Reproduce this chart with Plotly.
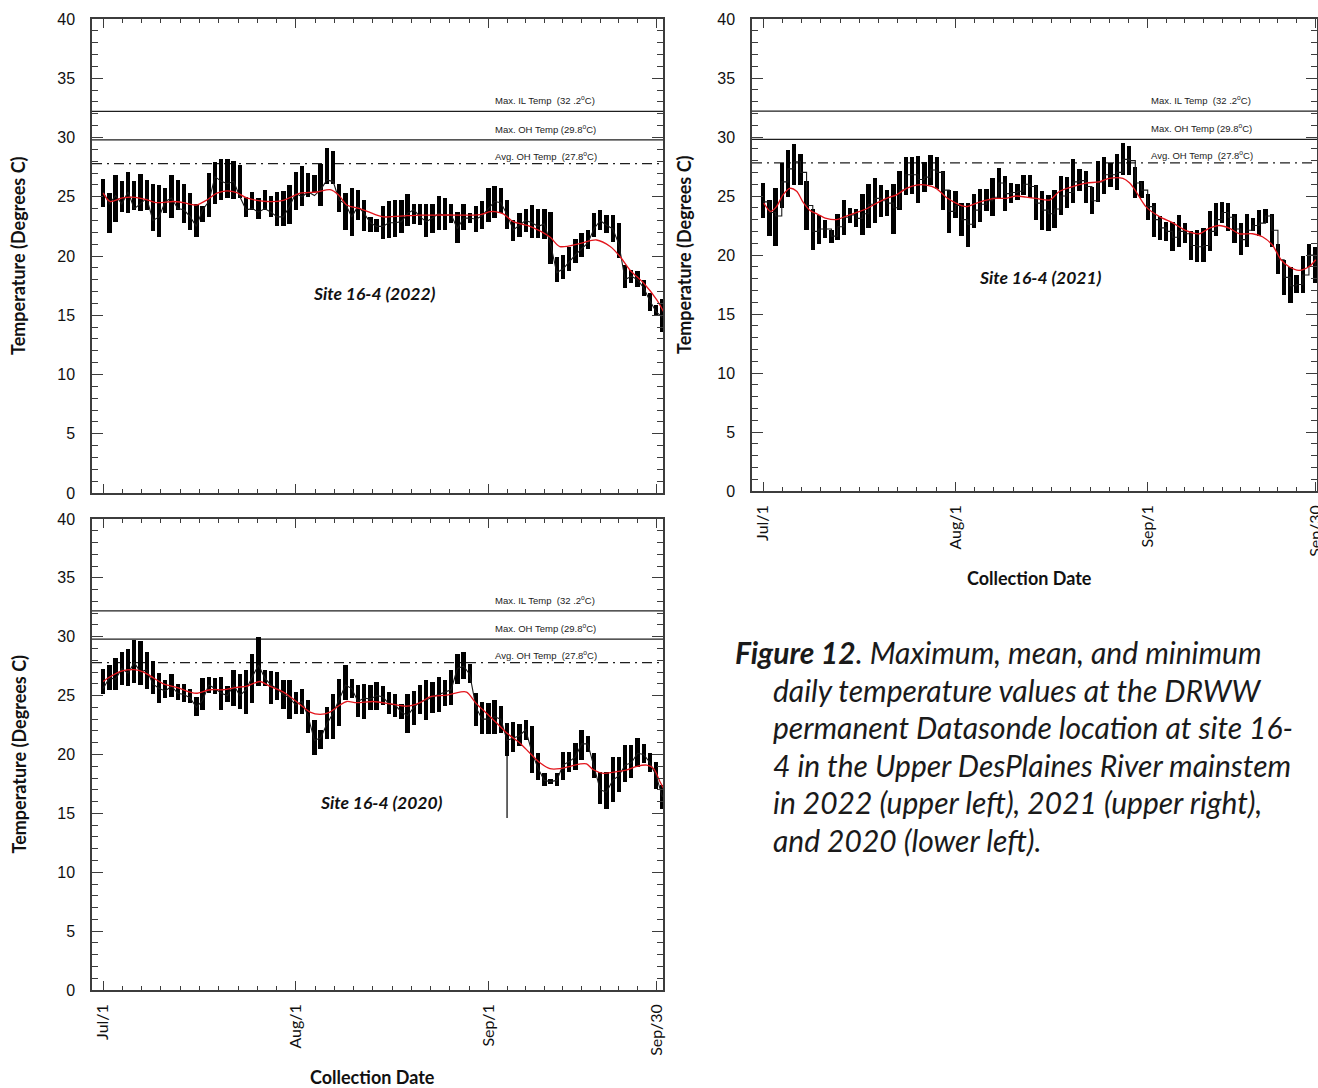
import plotly.graph_objects as go

W, H = 1318, 1088

# ---------------- daily temperature data (day 0 = Jul 1) ----------------
DAYS_2022 = list(range(91))
TMAX_2022 = [26.5, 25.3, 26.8, 26.3, 27.1, 26.3, 26.9, 26.4, 26.1, 26.0,
             25.7, 26.8, 26.4, 26.1, 25.3, 24.4, 24.2, 27.0, 27.9, 28.2,
             28.2, 28.0, 27.7, 25.0, 25.4, 24.9, 25.6, 25.1, 25.4, 25.5,
             26.0, 27.1, 27.6, 27.0, 26.8, 27.8, 29.1, 28.9, 26.1, 25.3,
             25.7, 25.6, 24.7, 23.3, 23.1, 24.2, 24.6, 24.7, 24.7, 25.2,
             24.4, 24.4, 24.4, 24.4, 25.1, 24.9, 24.4, 23.7, 24.4, 23.6,
             24.2, 24.6, 25.7, 25.9, 25.7, 24.7, 23.0, 23.6, 24.0, 24.3,
             24.0, 24.0, 23.7, 19.9, 20.1, 20.8, 21.4, 21.9, 22.2, 23.6,
             23.9, 23.5, 23.5, 22.8, 19.2, 18.8, 18.7, 18.0, 16.9, 15.9,
             16.4]
TMIN_2022 = [24.1, 21.9, 22.9, 23.7, 23.6, 23.9, 23.8, 23.9, 22.1, 21.6,
             23.6, 23.2, 23.9, 22.8, 22.2, 21.6, 22.9, 23.3, 24.4, 24.7,
             24.9, 24.8, 24.9, 23.3, 23.9, 23.1, 23.9, 23.3, 22.5, 22.5,
             22.7, 23.9, 24.2, 25.0, 25.4, 24.2, 26.1, 26.1, 23.7, 22.2,
             21.7, 23.0, 22.1, 22.0, 22.0, 21.4, 21.5, 21.6, 21.9, 22.5,
             22.7, 22.6, 21.6, 21.9, 22.2, 22.2, 22.8, 21.1, 22.2, 22.8,
             22.0, 22.3, 22.9, 23.2, 23.6, 22.3, 21.3, 21.6, 22.0, 21.5,
             21.5, 21.4, 19.3, 17.8, 18.1, 18.7, 19.4, 19.9, 20.6, 21.6,
             22.2, 21.9, 21.2, 19.8, 17.3, 17.7, 17.4, 16.6, 15.4, 14.9,
             13.6]
TMEAN_2022 = [25.4, 24.4, 25.1, 24.4, 25.4, 24.0, 24.4, 24.9, 23.0, 23.3,
              24.6, 24.9, 24.0, 23.9, 23.3, 22.5, 23.9, 24.6, 26.7, 26.3,
              26.1, 26.3, 25.0, 23.9, 24.0, 23.7, 24.0, 23.7, 23.3, 23.3,
              24.2, 25.3, 25.0, 25.4, 25.1, 25.6, 26.4, 26.3, 24.7, 24.4,
              23.3, 24.2, 23.6, 22.8, 22.5, 22.5, 22.8, 22.8, 22.9, 23.6,
              23.9, 23.3, 22.9, 23.2, 23.6, 23.4, 23.5, 22.3, 23.2, 23.2,
              23.1, 23.4, 24.0, 24.6, 24.5, 23.5, 22.2, 22.6, 23.0, 22.8,
              22.5, 22.7, 21.0, 18.6, 18.9, 19.5, 20.1, 20.6, 21.1, 22.3,
              23.0, 22.6, 22.3, 21.0, 18.0, 18.3, 18.0, 17.3, 16.2, 15.3,
              14.8]
SMOOTH_DAY_2022 = [0, 1.1, 3.1, 5.1, 7.3, 8.6, 11.3, 12.9, 15.0, 16.6, 18.3,
                   19.9, 21.5, 23.1, 26.3, 29.0, 31.7, 34.4, 36.5, 37.9, 39.2,
                   41.3, 43.5, 45.1, 48.9, 51.0, 55.3, 60.7, 62.3, 63.1, 64.4,
                   66.0, 68.7, 71.9, 73.5, 76.8, 79.4, 81.6, 83.2, 84.8, 87.0,
                   89.1, 90.2]
SMOOTH_2022 = [25.3, 24.6, 24.9, 24.95, 24.7, 24.5, 24.6, 24.5, 24.3, 24.7,
               25.3, 25.5, 25.35, 24.9, 24.6, 24.7, 25.3, 25.4, 25.6, 25.15,
               24.3, 24.0, 23.55, 23.3, 23.4, 23.45, 23.46, 23.5, 23.74,
               23.74, 23.55, 22.9, 22.5, 21.6, 20.8, 21.07, 21.35, 20.8,
               19.94, 18.8, 17.7, 16.3, 15.3]

DAYS_2021 = list(range(90))
TMAX_2021 = [26.1, 24.7, 25.7, 27.8, 28.9, 29.4, 28.6, 26.3, 23.9, 23.4,
             23.0, 22.1, 23.5, 24.7, 24.0, 23.9, 25.2, 26.0, 26.5, 25.9,
             25.5, 26.0, 27.1, 28.3, 28.3, 28.4, 27.9, 28.5, 28.3, 27.1,
             25.5, 25.4, 24.4, 24.4, 25.2, 25.6, 25.6, 26.5, 27.4, 26.7,
             26.1, 26.0, 26.8, 26.8, 25.9, 25.4, 25.1, 25.5, 26.7, 26.6,
             28.1, 27.3, 27.1, 25.8, 28.0, 28.3, 27.8, 28.6, 29.5, 29.2,
             27.5, 26.3, 25.2, 24.4, 23.3, 22.8, 22.8, 23.4, 22.7, 22.0,
             22.1, 22.3, 23.7, 24.4, 24.5, 24.4, 23.5, 22.7, 23.5, 23.1,
             23.8, 23.9, 23.5, 20.9, 19.6, 19.0, 18.3, 19.9, 20.9, 20.7]
TMIN_2021 = [23.1, 21.6, 20.8, 24.0, 24.9, 25.9, 25.9, 22.1, 20.4, 20.9,
             21.4, 21.0, 21.3, 21.7, 22.7, 22.4, 21.7, 22.3, 22.7, 23.2,
             23.3, 21.8, 23.8, 25.1, 25.2, 24.4, 25.3, 25.9, 25.6, 23.8,
             21.9, 23.1, 21.6, 20.7, 22.3, 22.8, 23.7, 23.3, 24.8, 23.7,
             24.4, 24.7, 25.1, 24.8, 23.0, 22.1, 22.0, 22.3, 23.4, 24.0,
             24.4, 25.4, 24.4, 23.5, 24.5, 25.2, 25.8, 25.5, 26.8, 26.8,
             24.8, 24.8, 23.0, 21.5, 21.3, 21.2, 20.3, 20.7, 21.0, 19.6,
             19.4, 19.4, 20.3, 21.6, 22.7, 22.0, 21.0, 20.0, 20.7, 22.0,
             21.6, 22.7, 20.7, 18.4, 16.6, 15.9, 16.8, 16.8, 19.0, 17.6]
TMEAN_2021 = [24.5, 23.6, 23.3, 26.2, 27.3, 27.9, 27.0, 24.2, 22.0, 22.2,
              22.2, 21.6, 22.4, 23.2, 23.4, 23.1, 23.5, 24.3, 24.8, 24.6,
              24.4, 24.0, 25.5, 26.8, 26.8, 26.4, 26.6, 27.2, 27.0, 25.5,
              23.7, 24.2, 23.0, 22.6, 23.8, 24.3, 24.6, 24.9, 26.1, 25.2,
              25.3, 25.4, 26.0, 25.8, 24.4, 23.8, 23.5, 23.9, 25.0, 25.3,
              26.2, 26.3, 25.8, 24.6, 26.2, 26.8, 26.8, 27.0, 28.1, 28.0,
              26.1, 25.5, 24.1, 23.0, 22.3, 22.0, 21.5, 22.0, 21.8, 20.8,
              20.7, 20.8, 22.0, 23.0, 23.6, 23.2, 22.2, 21.3, 22.1, 22.5,
              22.7, 23.3, 22.1, 19.6, 18.1, 17.4, 17.5, 18.3, 20.0, 19.1]
SMOOTH_DAY_2021 = [0.1, 1.2, 2.15, 3.2, 4.3, 5.4, 6.4, 7.5, 8.6, 10.2, 11.8,
                   13.4, 15.0, 16.6, 18.3, 19.9, 21.5, 23.1, 24.7, 26.3, 27.9,
                   29.5, 31.1, 32.7, 34.4, 36.0, 37.6, 39.2, 40.8, 42.4, 44.0,
                   46.2, 47.8, 49.9, 52.1, 54.2, 55.8, 58.0, 59.1, 60.1, 61.7,
                   63.9, 66.0, 68.2, 70.3, 71.9, 73.5, 75.2, 76.8, 78.9, 80.5,
                   82.1, 83.5, 84.8, 86.4, 88.0, 89.1]
SMOOTH_2021 = [24.4, 23.7, 24.1, 25.1, 25.65, 25.4, 24.5, 23.8, 23.5, 23.1,
               23.0, 23.3, 23.6, 23.9, 24.4, 24.8, 25.1, 25.65, 25.93, 25.93,
               25.65, 24.9, 24.4, 24.1, 24.4, 24.66, 24.8, 24.8, 25.0, 24.9,
               24.8, 24.66, 25.4, 25.8, 26.1, 26.2, 26.5, 26.5, 26.1, 25.4,
               24.1, 23.25, 22.74, 22.06, 21.8, 22.26, 22.5, 22.26, 21.8,
               21.8, 21.55, 20.85, 19.6, 19.0, 18.7, 19.0, 19.6]

DAYS_2020 = list(range(91))
TMAX_2020 = [27.3, 27.6, 28.2, 28.7, 29.0, 29.7, 29.6, 28.7, 27.9, 26.9,
             26.3, 26.8, 26.0, 26.0, 25.6, 24.9, 26.5, 26.6, 26.5, 26.6,
             25.8, 27.2, 26.8, 27.2, 28.5, 30.0, 27.2, 27.1, 27.0, 26.3,
             26.3, 25.3, 25.6, 24.6, 22.9, 22.1, 24.0, 25.1, 26.4, 27.6,
             26.4, 25.9, 26.0, 25.9, 26.2, 25.8, 25.3, 25.1, 24.3, 25.1,
             25.4, 25.9, 26.3, 26.2, 26.6, 26.3, 27.2, 28.5, 28.7, 27.7,
             25.2, 24.5, 24.4, 24.6, 24.1, 22.7, 22.8, 22.6, 22.9, 22.4,
             20.1, 18.4, 17.9, 18.4, 20.2, 20.2, 21.0, 22.1, 21.6, 20.1,
             18.5, 18.5, 19.8, 19.8, 20.8, 20.8, 21.4, 20.9, 20.1, 19.4,
             17.4]
TMIN_2020 = [25.1, 25.5, 25.5, 25.9, 25.8, 26.1, 25.9, 25.6, 25.1, 24.4,
             24.8, 24.9, 24.6, 24.5, 24.4, 23.3, 23.8, 25.2, 25.1, 23.8,
             24.5, 24.1, 23.9, 23.4, 24.4, 25.8, 25.8, 24.3, 24.6, 23.9,
             23.0, 23.4, 23.4, 21.8, 20.0, 20.5, 21.3, 21.3, 22.4, 24.6,
             24.8, 23.2, 23.0, 23.8, 23.8, 24.2, 23.4, 23.2, 23.0, 21.8,
             22.5, 23.4, 22.9, 23.5, 23.6, 24.1, 24.2, 26.0, 26.4, 26.1,
             22.4, 21.7, 21.7, 21.7, 21.8, 19.9, 20.2, 20.7, 21.2, 18.4,
             17.8, 17.3, 17.5, 17.3, 17.8, 18.5, 18.7, 19.5, 20.2, 18.0,
             15.8, 15.4, 16.0, 16.8, 17.7, 18.0, 18.9, 19.3, 18.5, 17.1,
             15.4]
TMEAN_2020 = [25.6, 26.5, 26.4, 27.3, 26.9, 27.8, 27.0, 27.2, 26.0, 25.6,
              25.4, 25.8, 25.2, 25.1, 24.8, 24.0, 24.6, 25.9, 25.6, 25.2,
              25.0, 25.9, 25.0, 25.5, 26.6, 27.6, 26.5, 25.9, 25.6, 25.1,
              24.8, 24.2, 24.5, 23.2, 21.2, 21.4, 22.6, 23.5, 24.7, 25.9,
              25.6, 24.5, 24.8, 24.7, 25.0, 24.9, 24.3, 24.2, 23.6, 23.3,
              24.0, 24.5, 24.6, 24.9, 25.1, 25.3, 25.5, 27.3, 27.5, 26.8,
              24.0, 23.0, 23.0, 23.2, 23.0, 21.2, 21.4, 21.6, 22.1, 20.2,
              18.8, 17.8, 17.7, 17.8, 19.1, 19.4, 19.8, 20.9, 20.9, 19.0,
              17.0, 16.8, 17.8, 18.2, 19.1, 19.3, 20.1, 20.0, 19.3, 18.2,
              16.4]
# single low reading on Sep 4, 2020 reaching below the daily bar
SPIKE_DAY_2020 = 65
SPIKE_LOW_2020 = 14.6
SMOOTH_DAY_2020 = [0, 1.1, 3.1, 5.0, 6.5, 8.1, 9.7, 11.8, 14.0, 15.0, 17.2,
                   19.3, 21.5, 23.1, 25.2, 26.8, 29.0, 31.1, 33.3, 34.9, 36.5,
                   38.1, 39.2, 40.8, 43.5, 46.2, 48.9, 51.0, 52.6, 55.3, 57.4,
                   58.5, 60.1, 61.7, 63.3, 65.0, 67.1, 68.7, 70.3, 71.9, 73.5,
                   75.2, 76.8, 77.8, 78.9, 80.5, 82.1, 84.3, 85.9, 87.5, 88.6,
                   89.6, 90.2]
SMOOTH_2020 = [26.2, 26.6, 27.1, 27.2, 27.0, 26.5, 26.0, 25.7, 25.3, 25.2,
               25.5, 25.5, 25.7, 25.8, 26.2, 25.8, 25.3, 24.5, 23.6, 23.4,
               23.6, 24.2, 24.5, 24.4, 24.5, 24.3, 24.1, 24.4, 24.9, 25.05,
               25.3, 25.3, 24.3, 23.5, 22.7, 21.8, 20.95, 20.1, 19.3, 18.8,
               18.8, 19.0, 19.2, 19.2, 18.7, 18.4, 18.5, 18.7, 19.0, 19.1,
               18.8, 17.7, 17.1]

# reference temperatures (deg C)
MAX_IL_TEMP = 32.2
MAX_OH_TEMP = 29.8
AVG_OH_TEMP = 27.8

Y_TICKS = [0, 5, 10, 15, 20, 25, 30, 35, 40]
DATE_TICKS = [0, 31, 62, 89.1]
DATE_LABELS = ["Jul/1", "Aug/1", "Sep/1", "Sep/30"]
MINOR_DATE_TICKS = [3.1 * k for k in range(21)] + [62 + 3.0 * k for k in range(1, 10)]

AXIS_COLOR = "#3c3c3c"
INK = "#111111"
RED = "#e3161d"


def px_x(p):
    return p / W


def px_y(p):
    return 1 - p / H


panels = [
    dict(year="2022", days=DAYS_2022, tmax=TMAX_2022, tmin=TMIN_2022,
         tmean=TMEAN_2022, sday=SMOOTH_DAY_2022, smooth=SMOOTH_2022,
         xdom=(92, 663), ydom=(19, 493), xrange=(-1.8, 90.1), labels=False,
         step=False, site=(374, 293), ytitle_x=18),
    dict(year="2021", days=DAYS_2021, tmax=TMAX_2021, tmin=TMIN_2021,
         tmean=TMEAN_2021, sday=SMOOTH_DAY_2021, smooth=SMOOTH_2021,
         xdom=(752, 1317), ydom=(19, 491), xrange=(-1.8, 89.3), labels=True,
         step=True, site=(1040, 277), ytitle_x=684),
    dict(year="2020", days=DAYS_2020, tmax=TMAX_2020, tmin=TMIN_2020,
         tmean=TMEAN_2020, sday=SMOOTH_DAY_2020, smooth=SMOOTH_2020,
         xdom=(92, 663), ydom=(519, 990), xrange=(-1.8, 90.1), labels=True,
         step=False, site=(381, 802), ytitle_x=18),
]

fig = go.Figure()
shapes = []
annotations = []

for i, p in enumerate(panels, start=1):
    xa = "x" if i == 1 else f"x{i}"
    ya = "y" if i == 1 else f"y{i}"

    # daily min-max range bars
    fig.add_trace(go.Bar(
        x=p["days"], y=[hi - lo for hi, lo in zip(p["tmax"], p["tmin"])],
        base=p["tmin"], width=0.7, marker=dict(color="#000000", line=dict(width=0)),
        xaxis=xa, yaxis=ya, showlegend=False, hoverinfo="skip"))

    if p["year"] == "2020":
        fig.add_trace(go.Scatter(
            x=[SPIKE_DAY_2020, SPIKE_DAY_2020],
            y=[p["tmin"][SPIKE_DAY_2020], SPIKE_LOW_2020],
            mode="lines", line=dict(color="#000000", width=1.2),
            xaxis=xa, yaxis=ya, showlegend=False, hoverinfo="skip"))

    # daily mean
    fig.add_trace(go.Scatter(
        x=p["days"], y=p["tmean"], mode="lines",
        line=dict(color="#1a1a1a", width=1.1, shape="hv" if p["step"] else "linear"),
        xaxis=xa, yaxis=ya, showlegend=False, hoverinfo="skip"))

    # smoothed trend
    fig.add_trace(go.Scatter(
        x=p["sday"], y=p["smooth"], mode="lines",
        line=dict(color=RED, width=1.3, shape="spline", smoothing=0.8),
        xaxis=xa, yaxis=ya, showlegend=False, hoverinfo="skip"))

    axis_common = dict(showline=True, linecolor=AXIS_COLOR, linewidth=1.5,
                       mirror="allticks", showgrid=False, zeroline=False,
                       ticks="inside", tickcolor=AXIS_COLOR, automargin=False)
    fig.update_layout(**{
        ("xaxis" if i == 1 else f"xaxis{i}"): dict(
            domain=[px_x(p["xdom"][0]), px_x(p["xdom"][1])],
            range=list(p["xrange"]), anchor=ya,
            tickmode="array", tickvals=DATE_TICKS, ticktext=DATE_LABELS,
            showticklabels=p["labels"], tickangle=-90, ticklen=9, tickwidth=1.2,
            ticklabelstandoff=6, ticklabeloverflow="allow",
            tickfont=dict(family="Lato", size=16, color=INK),
            minor=dict(tickmode="array", tickvals=MINOR_DATE_TICKS, ticklen=4,
                       tickwidth=1, ticks="inside", tickcolor=AXIS_COLOR),
            **axis_common),
        ("yaxis" if i == 1 else f"yaxis{i}"): dict(
            domain=[px_y(p["ydom"][1]), px_y(p["ydom"][0])],
            range=[0, 40], anchor=xa,
            tickmode="array", tickvals=Y_TICKS, ticklen=11, tickwidth=1.2,
            ticklabelstandoff=12,
            tickfont=dict(family="Liberation Sans", size=16, color=INK),
            minor=dict(dtick=1, ticklen=6, tickwidth=1, ticks="inside",
                       tickcolor=AXIS_COLOR),
            **axis_common),
    })

    # regulatory reference lines
    for val, dash in [(MAX_IL_TEMP, "solid"), (MAX_OH_TEMP, "solid"),
                      (AVG_OH_TEMP, "10px,5px,2px,5px")]:
        shapes.append(dict(type="line", xref=f"{xa} domain", yref=ya,
                           x0=0, x1=1, y0=val, y1=val, layer="below",
                           line=dict(color="#1e1e1e", width=1.3, dash=dash)))
    for text, val, shift in [
            ("Max. IL Temp  (32 .2<sup>o</sup>C)", MAX_IL_TEMP, 3),
            ("Max. OH Temp (29.8<sup>o</sup>C)", MAX_OH_TEMP, 3),
            ("Avg. OH Temp  (27.8<sup>o</sup>C)", AVG_OH_TEMP, 0)]:
        annotations.append(dict(
            text=text, xref=f"{xa} domain", yref=ya, x=0.702, y=val,
            xanchor="left", yanchor="bottom", yshift=shift, showarrow=False,
            font=dict(family="Liberation Sans", size=9.5, color="#222222")))

    # site label
    annotations.append(dict(
        text=f"<b><i>Site 16-4 ({p['year']})</i></b>", xref="paper", yref="paper",
        x=px_x(p["site"][0]), y=px_y(p["site"][1]), xanchor="center",
        yanchor="middle", showarrow=False,
        font=dict(family="Lato", size=17.5, color=INK)))

    # y axis title
    annotations.append(dict(
        text="<b>Temperature (Degrees C)</b>", xref="paper", yref="paper",
        x=px_x(p["ytitle_x"]), y=px_y((p["ydom"][0] + p["ydom"][1]) / 2),
        xanchor="center", yanchor="middle", textangle=-90, showarrow=False,
        font=dict(family="Lato", size=18, color=INK)))

    if p["labels"]:
        annotations.append(dict(
            text="<b>Collection Date</b>", xref="paper", yref="paper",
            x=px_x((p["xdom"][0] + p["xdom"][1]) / 2 - 5),
            y=px_y(p["ydom"][1] + 87), xanchor="center", yanchor="middle",
            showarrow=False, font=dict(family="Lato", size=18, color=INK)))

# figure caption
CAPTION_LINES = [
    "<b>Figure 12</b>. Maximum, mean, and minimum",
    "daily temperature values at the DRWW",
    "permanent Datasonde location at site 16-",
    "4 in the Upper DesPlaines River mainstem",
    "in 2022 (upper left), 2021 (upper right),",
    "and 2020 (lower left).",
]
for k, line in enumerate(CAPTION_LINES):
    annotations.append(dict(
        text=f"<i>{line}</i>", xref="paper", yref="paper",
        x=px_x(733 if k == 0 else 771), y=px_y(652 + 37.6 * k),
        xanchor="left", yanchor="middle", showarrow=False,
        font=dict(family="Lato", size=30, color="#1a1a1a")))

fig.update_layout(
    width=W, height=H, margin=dict(l=0, r=0, t=0, b=0, autoexpand=False),
    paper_bgcolor="white", plot_bgcolor="white",
    shapes=shapes, annotations=annotations, bargap=0, showlegend=False,
)

fig.write_html("out.html")
